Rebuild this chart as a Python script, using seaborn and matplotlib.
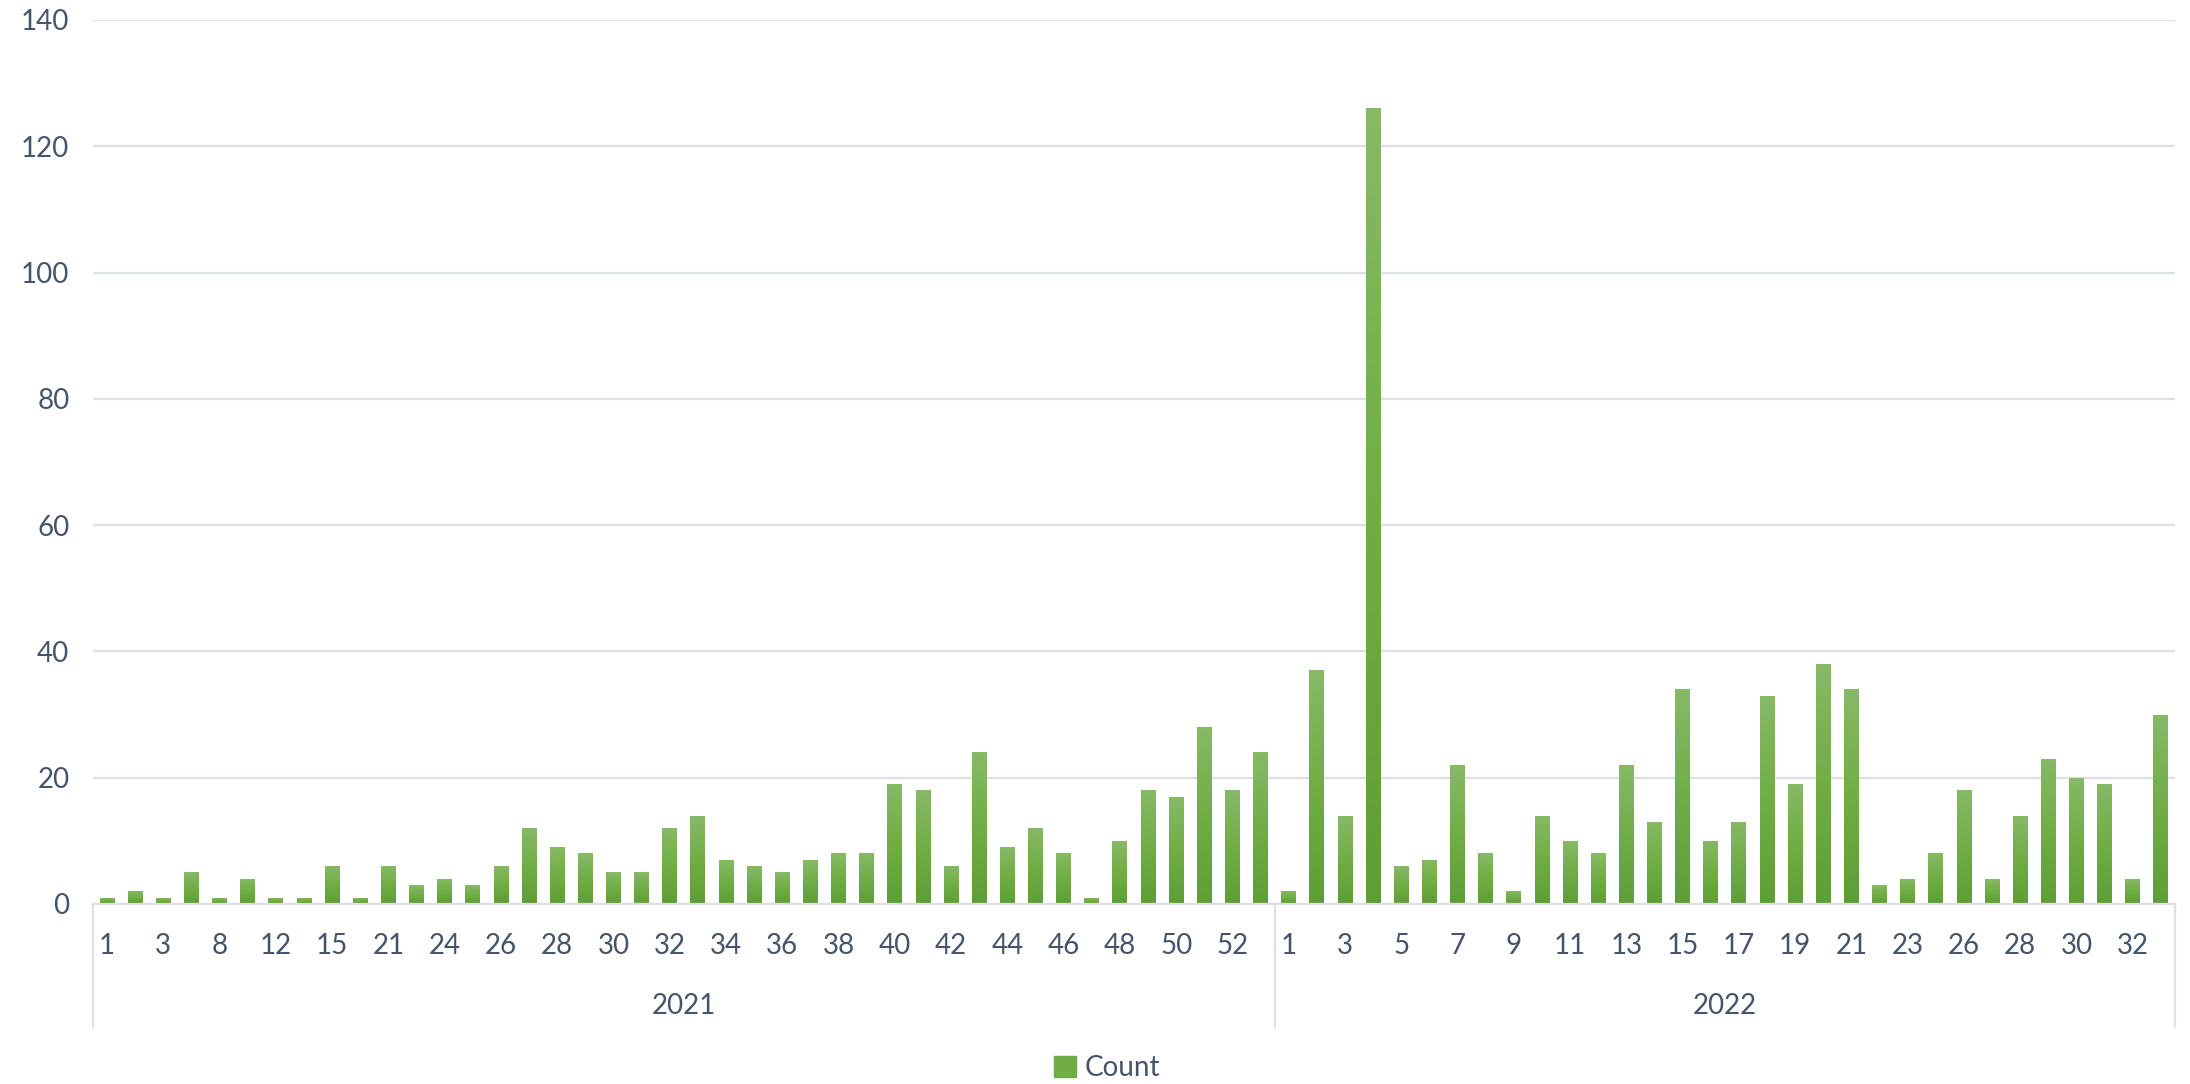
import numpy as np
import pandas as pd
import matplotlib
matplotlib.use('Agg')
import matplotlib.pyplot as plt
import matplotlib.patches as mpatches
from matplotlib.colors import LinearSegmentedColormap
import seaborn as sns

# week numbers per year (odd positions are not labelled on the axis)
years = ['2021', '2022']
weeks_2021 = [1, 2, 3, 6, 8, 10, 12, 13, 15, 18, 21, 22] + list(range(24, 54))
weeks_2022 = list(range(1, 24)) + [25] + list(range(26, 34))
counts_2021 = [1, 2, 1, 5, 1, 4, 1, 1, 6, 1, 6, 3, 4, 3, 6, 12, 9, 8, 5, 5,
               12, 14, 7, 6, 5, 7, 8, 8, 19, 18, 6, 24, 9, 12, 8, 1, 10, 18, 17, 28,
               18, 24]
counts_2022 = [2, 37, 14, 126, 6, 7, 22, 8, 2, 14, 10, 8, 22, 13, 34, 10, 13, 33, 19, 38,
               34, 3, 4, 8, 18, 4, 14, 23, 20, 19, 4, 30]

TEXT = '#44546A'
GRID = '#DCE0E6'
GREEN = '#70AD47'
FS = 20

df = pd.DataFrame({
    'year': ['2021'] * len(weeks_2021) + ['2022'] * len(weeks_2022),
    'week': weeks_2021 + weeks_2022,
    'count': counts_2021 + counts_2022,
})
df['key'] = df['year'] + '-' + df['week'].astype(str)

sns.set_style('white')
plt.rcParams['font.family'] = ['Lato', 'DejaVu Sans']

fig = plt.figure(figsize=(21.9, 10.84), dpi=100)
ax = fig.add_axes([93 / 2190, 1 - 904 / 1084, (2175 - 93) / 2190, (904 - 20) / 1084])

sns.barplot(data=df, x='key', y='count', color=GREEN, width=0.53,
            saturation=1, ax=ax, errorbar=None)

# vertical gradient inside each bar, like the Excel fill
cmap = LinearSegmentedColormap.from_list('g', ['#5E9E36', '#70AE45', '#87B967'])
grad = np.linspace(0, 1, 256).reshape(-1, 1)
for p in ax.patches:
    x0, y0 = p.get_x(), p.get_y()
    w, h = p.get_width(), p.get_height()
    im = ax.imshow(grad, extent=[x0, x0 + w, y0, y0 + h], origin='lower',
                   cmap=cmap, aspect='auto', zorder=p.get_zorder())
    im.set_clip_path(p)
    p.set_facecolor('none')
    p.set_edgecolor('none')

n = len(df)
ax.set_xlim(-0.5, n - 0.5)
ax.set_ylim(0, 140)
ax.set_yticks(range(0, 141, 20))
ax.yaxis.grid(True, color=GRID, linewidth=1.6)
ax.set_axisbelow(True)
for s in ['top', 'right', 'left']:
    ax.spines[s].set_visible(False)
ax.spines['bottom'].set_color(GRID)
ax.spines['bottom'].set_linewidth(1.6)

ticks = list(range(0, len(weeks_2021), 2)) + [len(weeks_2021) + i for i in range(0, len(weeks_2022), 2)]
ax.set_xticks(ticks)
ax.set_xticklabels([str(df['week'][i]) for i in ticks])
ax.tick_params(axis='x', length=0, pad=21, labelsize=FS, colors=TEXT)
ax.tick_params(axis='y', length=0, pad=17, labelsize=FS, colors=TEXT)
ax.set_xlabel('')
ax.set_ylabel('')

# year group axis below the week labels
trans = ax.get_xaxis_transform()
bottom = -(1027 - 904) / 884
for xb in [-0.5, len(weeks_2021) - 0.5, n - 0.5]:
    ax.plot([xb, xb], [0, bottom], color=GRID, lw=1.6, transform=trans, clip_on=False)
starts = [0, len(weeks_2021)]
sizes = [len(weeks_2021), len(weeks_2022)]
for yr, s, k in zip(years, starts, sizes):
    ax.text(s + (k - 1) / 2, -(1006 - 904) / 884, yr, transform=trans,
            ha='center', va='center', fontsize=FS, color=TEXT)

handle = mpatches.Patch(color=GREEN, label='Count')
fig.legend(handles=[handle], loc='center', bbox_to_anchor=(1107 / 2190, 1 - 1068 / 1084),
           frameon=False, fontsize=FS, labelcolor=TEXT, handlelength=0.8,
           handleheight=0.8, handletextpad=0.3)

fig.savefig('out.png', dpi=100, facecolor='white')
